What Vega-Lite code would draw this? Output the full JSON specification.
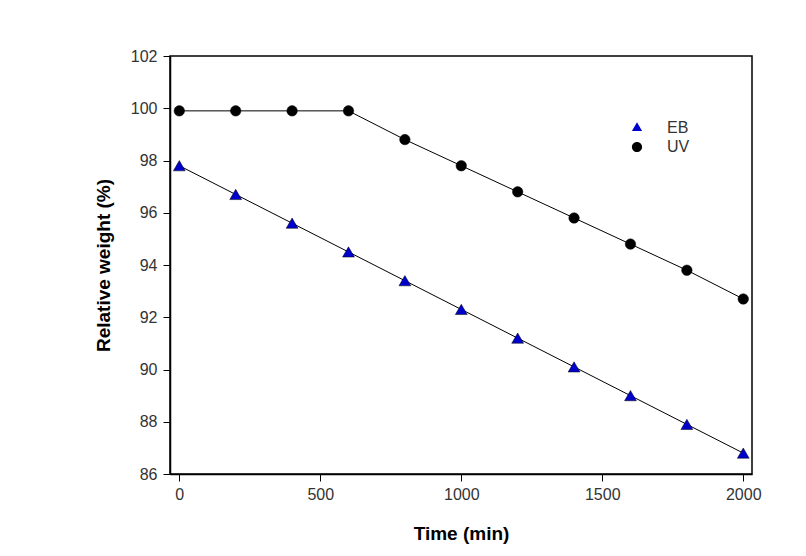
{
  "$schema": "https://vega.github.io/schema/vega-lite/v6.json",
  "width": 582,
  "height": 418,
  "autosize": "none",
  "padding": {"left": 170, "top": 56, "right": 54, "bottom": 82},
  "background": "white",
  "config": {
    "font": "Liberation Sans",
    "view": {"stroke": "black", "strokeWidth": 1.5}
  },
  "data": {
    "values": [
      {"time": 0, "weight": 97.8, "series": "EB"},
      {"time": 200, "weight": 96.7, "series": "EB"},
      {"time": 400, "weight": 95.6, "series": "EB"},
      {"time": 600, "weight": 94.5, "series": "EB"},
      {"time": 800, "weight": 93.4, "series": "EB"},
      {"time": 1000, "weight": 92.3, "series": "EB"},
      {"time": 1200, "weight": 91.2, "series": "EB"},
      {"time": 1400, "weight": 90.1, "series": "EB"},
      {"time": 1600, "weight": 89.0, "series": "EB"},
      {"time": 1800, "weight": 87.9, "series": "EB"},
      {"time": 2000, "weight": 86.8, "series": "EB"},
      {"time": 0, "weight": 99.9, "series": "UV"},
      {"time": 200, "weight": 99.9, "series": "UV"},
      {"time": 400, "weight": 99.9, "series": "UV"},
      {"time": 600, "weight": 99.9, "series": "UV"},
      {"time": 800, "weight": 98.8, "series": "UV"},
      {"time": 1000, "weight": 97.8, "series": "UV"},
      {"time": 1200, "weight": 96.8, "series": "UV"},
      {"time": 1400, "weight": 95.8, "series": "UV"},
      {"time": 1600, "weight": 94.8, "series": "UV"},
      {"time": 1800, "weight": 93.8, "series": "UV"},
      {"time": 2000, "weight": 92.7, "series": "UV"}
    ]
  },
  "encoding": {
    "x": {
      "field": "time",
      "type": "quantitative",
      "scale": {"domain": [-33, 2031], "nice": false, "zero": false},
      "axis": {
        "values": [0, 500, 1000, 1500, 2000], "format": "d", "title": "Time (min)",
        "grid": false, "domainColor": "black", "domainWidth": 1.5, "tickColor": "black", "tickSize": 7,
        "labelFont": "Liberation Sans", "labelFontSize": 16, "labelColor": "#333333", "labelPadding": 5,
        "titleFont": "Liberation Sans", "titleFontSize": 19, "titleFontWeight": "bold", "titleColor": "black", "titlePadding": 22
      }
    },
    "y": {
      "field": "weight",
      "type": "quantitative",
      "scale": {"domain": [86, 102], "nice": false, "zero": false},
      "axis": {
        "values": [86, 88, 90, 92, 94, 96, 98, 100, 102], "format": "d", "title": "Relative weight (%)",
        "grid": false, "domainColor": "black", "domainWidth": 1.5, "tickColor": "black", "tickSize": 7,
        "labelFont": "Liberation Sans", "labelFontSize": 16, "labelColor": "#333333", "labelPadding": 6,
        "titleFont": "Liberation Sans", "titleFontSize": 19, "titleFontWeight": "bold", "titleColor": "black", "titlePadding": 17
      }
    }
  },
  "layer": [
    {
      "mark": {"type": "line", "color": "black", "strokeWidth": 1},
      "encoding": {"detail": {"field": "series"}}
    },
    {
      "mark": {"type": "point", "filled": true, "opacity": 1, "stroke": "black", "strokeWidth": 0.5},
      "encoding": {
        "fill": {
          "field": "series",
          "type": "nominal",
          "scale": {"domain": ["EB", "UV"], "range": ["#0000cc", "black"]},
          "legend": null
        },
        "size": {
          "field": "series",
          "type": "nominal",
          "scale": {"domain": ["EB", "UV"], "range": [140, 110]},
          "legend": null
        },
        "shape": {
          "field": "series",
          "type": "nominal",
          "scale": {"domain": ["EB", "UV"], "range": ["triangle-up", "circle"]},
          "legend": null
        }
      }
    },
    {
      "transform": [{"filter": "datum.time < 0"}],
      "mark": {"type": "point", "filled": true, "opacity": 1, "stroke": "black", "strokeWidth": 1},
      "encoding": {
        "fill": {
          "field": "series",
          "type": "nominal",
          "scale": {"domain": ["EB", "UV"], "range": ["#0000cc", "black"]},
          "legend": {
            "title": null,
            "orient": "none",
            "legendX": 459,
            "legendY": 64,
            "padding": 0,
            "symbolSize": 144,
            "symbolStrokeColor": "black",
            "symbolStrokeWidth": 1,
            "symbolOpacity": 1,
            "labelOffset": 22,
            "rowPadding": 3,
            "labelFontSize": 16,
            "labelFont": "Liberation Sans",
            "labelColor": "#333333"
          }
        },
        "shape": {
          "field": "series",
          "type": "nominal",
          "scale": {"domain": ["EB", "UV"], "range": ["M-3,0H3M-0.85,0.5L0,-0.95L0.85,0.5Z", "M-3,0H3M-0.85,0A0.85,0.85 0 1,0 0.85,0A0.85,0.85 0 1,0 -0.85,0Z"]},
          "legend": {
            "title": null,
            "orient": "none",
            "legendX": 459,
            "legendY": 64,
            "padding": 0,
            "symbolSize": 144,
            "symbolStrokeColor": "black",
            "symbolStrokeWidth": 1,
            "symbolOpacity": 1,
            "labelOffset": 22,
            "rowPadding": 3,
            "labelFontSize": 16,
            "labelFont": "Liberation Sans",
            "labelColor": "#333333"
          }
        }
      }
    }
  ],
  "resolve": {
    "scale": {"fill": "independent", "shape": "independent", "size": "independent"},
    "legend": {"fill": "independent", "shape": "independent", "size": "independent"}
  }
}
